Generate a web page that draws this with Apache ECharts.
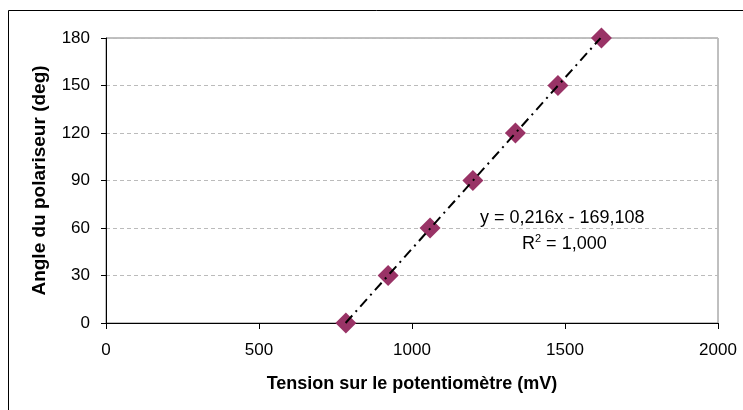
<!DOCTYPE html>
<html lang="fr">
<head>
    <meta charset="UTF-8">
    <title>Angle du polariseur</title>
    <script src="https://cdn.jsdelivr.net/npm/echarts@6/dist/echarts.min.js"></script>
    <style>
        html, body { margin: 0; padding: 0; background: #fff; }
    </style>
</head>
<body>
    <div id="main" style="width: 743px; height: 410px;"></div>
    <script>
        var tension = [784, 922, 1059, 1199, 1338, 1477, 1619];
        var angle = [0, 30, 60, 90, 120, 150, 180];
        // droite de regression (Excel)
        var pente = 0.216;
        var origine = -169.108;
        var xTrend = [783, 1616];

        var points = tension.map(function (v, i) { return [v, angle[i]]; });
        var trend = xTrend.map(function (v) { return [v, +(pente * v + origine).toFixed(3)]; });

        var myChart = echarts.init(document.getElementById('main'));
        var font = 'Liberation Sans, Arial, sans-serif';
        var option = {
            backgroundColor: '#fff',
            animation: false,
            grid: {
                left: 106,
                top: 38,
                right: 25,
                bottom: 87,
                show: true,
                borderColor: '#808080',
                borderWidth: 1
            },
            xAxis: {
                type: 'value',
                min: 0,
                max: 2000,
                interval: 500,
                name: 'Tension sur le potentiomètre (mV)',
                nameLocation: 'middle',
                nameGap: 52,
                nameTextStyle: { fontFamily: font, fontSize: 18, fontWeight: 'bold', color: '#000' },
                axisLine: { show: true, lineStyle: { color: '#000', width: 1 } },
                axisTick: { show: true, inside: false, length: 6, lineStyle: { color: '#000' } },
                axisLabel: {
                    fontFamily: font, fontSize: 17, color: '#000', margin: 19,
                    formatter: function (v) { return String(v); }
                },
                splitLine: { show: false }
            },
            yAxis: {
                type: 'value',
                min: 0,
                max: 180,
                interval: 30,
                name: 'Angle du polariseur (deg)',
                nameLocation: 'middle',
                nameGap: 57,
                nameRotate: 90,
                nameTextStyle: { fontFamily: font, fontSize: 19, fontWeight: 'bold', color: '#000' },
                axisLine: { show: true, lineStyle: { color: '#000', width: 1 } },
                axisTick: { show: true, length: 5, lineStyle: { color: '#000' } },
                axisLabel: { fontFamily: font, fontSize: 17, color: '#000', margin: 16 },
                splitLine: { show: true, lineStyle: { color: '#bbb', type: [4, 3], width: 1 } }
            },
            series: [
                {
                    name: 'tendance',
                    type: 'line',
                    data: trend,
                    symbol: 'none',
                    z: 3,
                    lineStyle: { color: '#000', width: 2, type: [10, 5, 2, 5] }
                },
                {
                    name: 'mesures',
                    type: 'scatter',
                    data: points,
                    symbol: 'diamond',
                    symbolSize: [21, 21],
                    z: 2,
                    itemStyle: { color: '#993366', opacity: 1 }
                }
            ],
            graphic: [
                {
                    type: 'rect',
                    shape: { x: 8.5, y: 10.5, width: 760, height: 420 },
                    style: { fill: null, stroke: '#000', lineWidth: 1 },
                    silent: true
                },
                {
                    type: 'text',
                    left: 480,
                    top: 209,
                    style: {
                        text: 'y = 0,216x - 169,108',
                        font: '18px ' + font,
                        fill: '#000'
                    }
                },
                {
                    type: 'text',
                    left: 522,
                    top: 233,
                    style: {
                        text: '{a|R}{s|2}{a| = 1,000}',
                        rich: {
                            a: { font: '18px ' + font, fill: '#000', verticalAlign: 'bottom' },
                            s: { font: '11px ' + font, fill: '#000', padding: [0, 0, 9, 0], verticalAlign: 'bottom' }
                        }
                    }
                }
            ]
        };
        myChart.setOption(option);
    </script>
</body>
</html>
